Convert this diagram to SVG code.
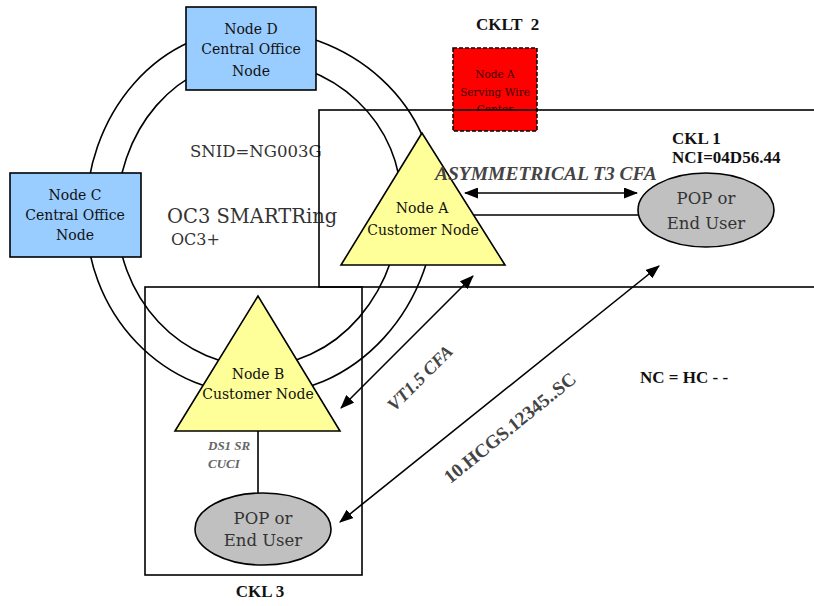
<svg xmlns="http://www.w3.org/2000/svg" width="814" height="606" viewBox="0 0 814 606" font-family="'DejaVu Serif', serif">
<defs>
<style>
.ln{fill:none;stroke:#000;stroke-width:1.6}
.box{fill:#99ccff;stroke:#000;stroke-width:1.6}
.tri{fill:#ffff99;stroke:#000;stroke-width:1.6}
.pop{fill:#c0c0c0;stroke:#000;stroke-width:1.6}
.arr{fill:none;stroke:#000;stroke-width:1.6;marker-start:url(#ah);marker-end:url(#ah)}
.bf{font-family:"Liberation Serif",serif;font-weight:bold}
</style>
<marker id="ah" markerUnits="userSpaceOnUse" markerWidth="14" markerHeight="11" viewBox="0 0 14 11" refX="13" refY="5.5" orient="auto-start-reverse">
<path d="M0,0 L14,5.5 L0,11 z" fill="#000"/>
</marker>
<clipPath id="wc"><rect x="450" y="45" width="90" height="65"/></clipPath>
</defs>
<rect width="814" height="606" fill="#fff"/>

<g id="connectors">
<path id="ring-outer" class="ln" d="M 86 215 A 164 186 0 0 1 250 29 A 186 171 0 0 1 436 200 A 178 195 0 0 1 258 395 A 172 180 0 0 1 86 215 Z"/>
<path id="ring-inner" class="ln" d="M 117 215 A 135 155 0 0 1 252 60 A 149 140 0 0 1 401 200 A 143 166 0 0 1 258 366 A 141 151 0 0 1 117 215 Z"/>
<line class="ln" x1="470" y1="215" x2="639" y2="215"/>
<line class="arr" x1="465" y1="193" x2="637" y2="193"/>
<line class="ln" x1="258" y1="431" x2="258" y2="493"/>
<line class="arr" x1="341" y1="408" x2="473" y2="276"/>
<line class="arr" x1="340" y1="522" x2="659" y2="266"/>
</g>

<g id="nodeD" font-size="14" text-anchor="middle" fill="#111">
<rect class="box" x="186" y="7" width="130" height="83"/>
<text x="251" y="34">Node D</text>
<text x="251" y="54">Central Office</text>
<text x="251" y="76">Node</text>
</g>

<g id="nodeC" font-size="14" text-anchor="middle" fill="#111">
<rect class="box" x="10" y="173" width="131" height="84"/>
<text x="75" y="200">Node C</text>
<text x="75" y="220">Central Office</text>
<text x="75" y="240">Node</text>
</g>

<g id="nodeA" font-size="14" text-anchor="middle" fill="#111">
<polygon class="tri" points="422,133 341,265 505,265"/>
<text x="422" y="213">Node A</text>
<text x="423" y="235">Customer Node</text>
</g>

<g id="nodeB" font-size="14" text-anchor="middle" fill="#111">
<polygon class="tri" points="258,296 175,431 340,431"/>
<text x="258" y="379">Node B</text>
<text x="258" y="399">Customer Node</text>
</g>

<g id="pop1" font-size="16.5" text-anchor="middle" fill="#333">
<ellipse class="pop" cx="706" cy="210" rx="68" ry="37"/>
<text x="706" y="204">POP or</text>
<text x="706" y="229">End User</text>
</g>

<g id="pop3" font-size="16.5" text-anchor="middle" fill="#333">
<ellipse class="pop" cx="263" cy="529" rx="68" ry="36"/>
<text x="263" y="524">POP or</text>
<text x="263" y="546">End User</text>
</g>

<g id="wireCenter">
<rect x="453" y="48" width="84" height="83" fill="#ff0000" stroke="#000" stroke-width="1.5" stroke-dasharray="4 2"/>
<g clip-path="url(#wc)" font-size="10.5" text-anchor="middle" fill="#400000">
<text x="495" y="78">Node A</text>
<text x="495" y="96">Serving Wire</text>
<text x="495" y="113">Center</text>
</g>
</g>

<g id="labels" fill="#111">
<text x="190" y="157" font-size="16.5" fill="#333">SNID=NG003G</text>
<text x="167" y="223" font-size="19.5" fill="#333">OC3 SMARTRing</text>
<text x="171" y="245" font-size="16" fill="#333">OC3+</text>
<text class="bf" x="435" y="180" font-size="19.5" font-style="italic" fill="#444">ASYMMETRICAL T3 CFA</text>
<text class="bf" x="672" y="144" font-size="17">CKL 1</text>
<text class="bf" x="672" y="163" font-size="17">NCI=04D56.44</text>
<text class="bf" x="476" y="30" font-size="17" xml:space="preserve">CKLT  2</text>
<text class="bf" x="260" y="597" font-size="17" text-anchor="middle">CKL 3</text>
<text class="bf" x="640" y="383" font-size="17">NC = HC - -</text>
<text class="bf" x="208" y="449.5" font-size="13" font-style="italic" fill="#666">DS1 SR</text>
<text class="bf" x="208" y="467.5" font-size="13" font-style="italic" fill="#666">CUCI</text>
<text class="bf" font-size="18" font-style="italic" fill="#444" text-anchor="middle" transform="translate(420,378) rotate(-45)" y="6">VT1.5 CFA</text>
<text class="bf" font-size="19" fill="#444" text-anchor="middle" transform="translate(510,428) rotate(-39)" y="6">10.HCGS.12345..SC</text>
</g>

<g id="ckl1">
<rect class="ln" x="319" y="110" width="520" height="177"/>
</g>
<g id="ckl3">
<rect class="ln" x="145" y="287" width="217" height="288"/>
</g>
</svg>
